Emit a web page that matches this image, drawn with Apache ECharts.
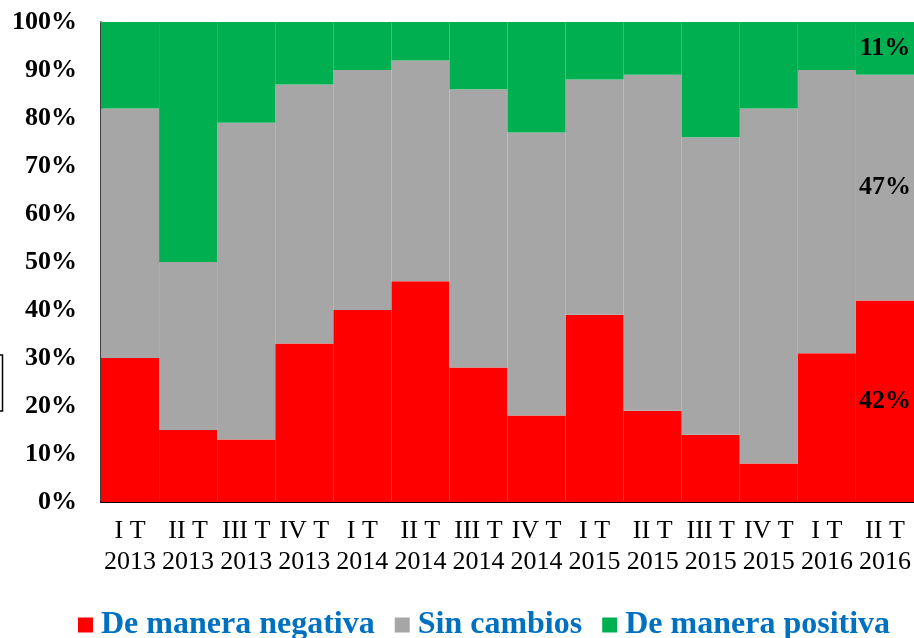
<!DOCTYPE html>
<html>
<head>
<meta charset="utf-8">
<style>
  html, body { margin: 0; padding: 0; background: #fff; }
  #chart { width: 914px; height: 638px; }
</style>
<script src="https://cdn.jsdelivr.net/npm/echarts@6/dist/echarts.min.js"></script>
</head>
<body>
<div id="chart"></div>
<script>
const categories = ['I T\n2013','II T\n2013','III T\n2013','IV T\n2013','I T\n2014','II T\n2014','III T\n2014','IV T\n2014','I T\n2015','II T\n2015','III T\n2015','IV T\n2015','I T\n2016','II T\n2016'];
const negativa = [30, 15, 13, 33, 40, 46, 28, 18, 39, 19, 14, 8, 31, 42];
const sinCambios = [52, 35, 66, 54, 50, 46, 58, 59, 49, 70, 62, 74, 59, 47];
const positiva = [18, 50, 21, 13, 10, 8, 14, 23, 12, 11, 24, 18, 10, 11];
const yTicks = [0, 10, 20, 30, 40, 50, 60, 70, 80, 90, 100];
const seriesNames = ['De manera negativa', 'Sin cambios', 'De manera positiva'];

const FONT = "'Liberation Serif', 'Times New Roman', serif";
const lastIdx = categories.length - 1;

function withLastLabel(arr) {
  return arr.map((v, i) => i === lastIdx
    ? { value: v, label: { show: true } }
    : { value: v });
}

function makeSeries(name, arr, color) {
  return {
    name: name,
    type: 'bar',
    stack: 'total',
    barWidth: '100%',
    barCategoryGap: '0%',
    itemStyle: { color: color },
    label: {
      show: false,
      position: 'inside',
      formatter: '{c}%',
      fontFamily: FONT,
      fontWeight: 'bold',
      fontSize: 26,
      color: '#000'
    },
    emphasis: { disabled: true },
    data: withLastLabel(arr)
  };
}

const chart = echarts.init(document.getElementById('chart'), null, { renderer: 'canvas' });
chart.setOption({
  animation: false,
  backgroundColor: '#fff',
  grid: { left: 101, right: 0, top: 22, bottom: 136, containLabel: false },
  legend: {
    data: seriesNames,
    left: 78,
    top: 609,
    padding: 0,
    icon: 'rect',
    itemWidth: 15,
    itemHeight: 15,
    itemGap: 20,
    textStyle: {
      fontFamily: FONT,
      fontWeight: 'bold',
      fontSize: 32,
      color: '#0070C0',
      padding: [0, 0, 0, 3]
    }
  },
  xAxis: [{
    type: 'category',
    data: categories,
    position: 'bottom',
    axisLine: { show: true, lineStyle: { color: '#000', width: 2 } },
    axisTick: { show: false },
    axisLabel: {
      interval: 0,
      margin: 14,
      fontFamily: FONT,
      fontSize: 26,
      lineHeight: 31,
      color: '#000'
    }
  }, {
    type: 'category',
    data: categories,
    position: 'top',
    axisLine: { show: true, lineStyle: { color: '#808080', width: 1 } },
    axisTick: { show: false },
    axisLabel: { show: false }
  }],
  yAxis: {
    type: 'value',
    min: yTicks[0],
    max: yTicks[yTicks.length - 1],
    interval: 10,
    axisLine: { show: true, lineStyle: { color: '#000', width: 1.5 } },
    axisTick: { show: false },
    splitLine: { show: false },
    axisLabel: {
      margin: 24,
      formatter: '{value}%',
      fontFamily: FONT,
      fontWeight: 'bold',
      fontSize: 26,
      color: '#000'
    }
  },
  graphic: [{
    type: 'rect',
    shape: { x: -30, y: 355, width: 32.5, height: 56 },
    style: { fill: 'none', stroke: '#000', lineWidth: 1.5 },
    silent: true
  }],
  series: [
    makeSeries(seriesNames[0], negativa, '#FF0000'),
    makeSeries(seriesNames[1], sinCambios, '#A6A6A6'),
    makeSeries(seriesNames[2], positiva, '#00B050')
  ]
});
</script>
</body>
</html>
